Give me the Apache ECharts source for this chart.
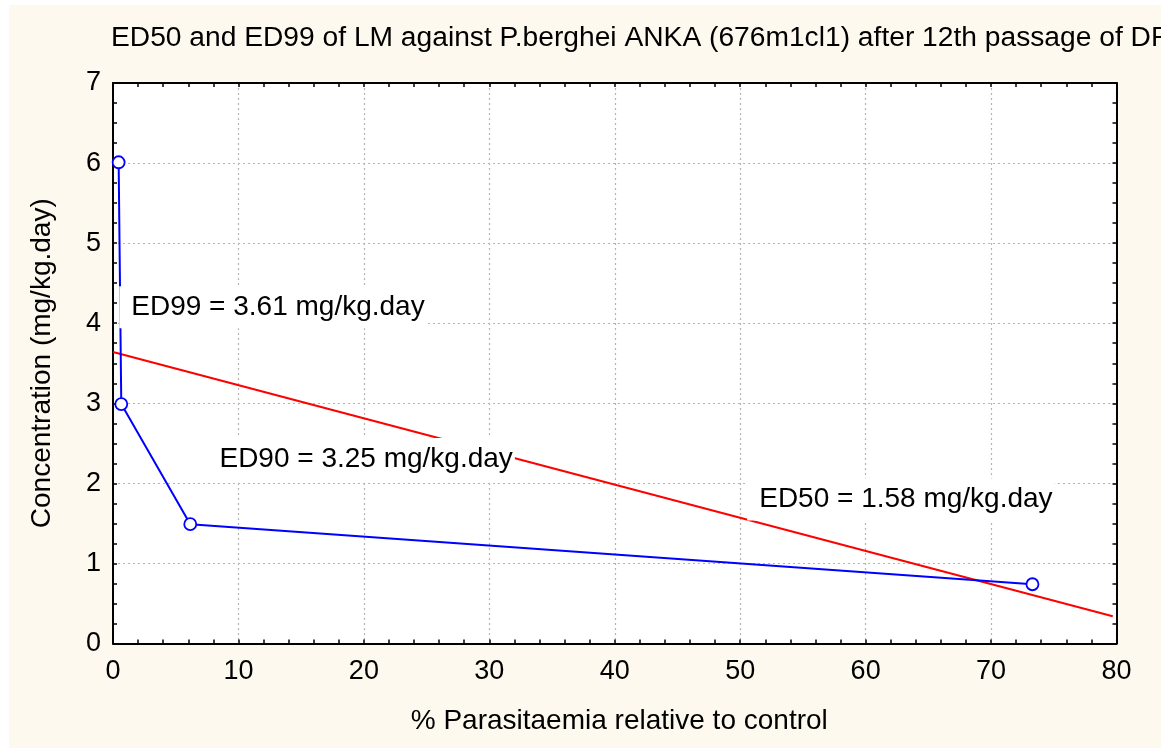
<!DOCTYPE html>
<html>
<head>
<meta charset="utf-8">
<script src="https://cdn.jsdelivr.net/npm/echarts@6/dist/echarts.min.js"></script>
<style>
    html, body { margin: 0; padding: 0; background: #fff; }
    .panel {
        position: absolute;
        left: 9px;
        top: 5px;
        width: 1152px;
        height: 743px;
        background: #fef9ee;
        overflow: hidden;
    }
    .chart { width: 100%; height: 100%; }
</style>
</head>
<body>
<div class="panel"><div class="chart" id="chart"></div></div>
<script>
// 数据：% 寄生虫血症 与 浓度
const pctX = [0.45, 0.66, 6.16, 73.3];
const conc = [6.01, 2.99, 1.49, 0.74];

// 拟合直线两端
const fitX = [0, 79.7];
const fitY = [3.64, 0.34];

// ED 标注文字和位置（数据坐标）
const edTexts = ['ED99 = 3.61 mg/kg.day', 'ED90 = 3.25 mg/kg.day', 'ED50 = 1.58 mg/kg.day'];
const edX = [0.50, 7.53, 50.56];
const edY = [4.20, 2.305, 1.797];

// 刻度
const xTicks = { min: 0, max: 80, interval: 10 };
const yTicks = { min: 0, max: 7, interval: 1 };

const font = "'Liberation Sans', Arial, sans-serif";

let myChart = echarts.init(document.getElementById('chart'));

// 公共坐标轴样式
function frameAxis(extra) {
    return Object.assign({
        type: 'value',
        axisLine: { show: true, onZero: false, lineStyle: { color: '#000', width: 2 } },
        axisTick: { show: true, inside: true, length: 4, lineStyle: { color: '#000', width: 1.5 } },
        minorTick: { show: true, length: 4, lineStyle: { color: '#000', width: 1.5 } },
        splitLine: { show: false },
        axisLabel: { show: false }
    }, extra);
}

let option = {
    animation: false,
    textStyle: { fontFamily: font },
    title: {
        text: 'ED50 and ED99 of LM against P.berghei ANKA (676m1cl1) after 12th passage of DP',
        left: 102,
        top: 19,
        padding: 0,
        textStyle: { fontFamily: font, fontSize: 28.2, fontWeight: 'normal', color: '#000' }
    },
    grid: {
        left: 104,
        top: 78,
        right: 44.5,
        bottom: 104.5,
        show: true,
        backgroundColor: '#fff',
        borderWidth: 0
    },
    xAxis: [
        frameAxis({
            min: xTicks.min, max: xTicks.max, interval: xTicks.interval,
            position: 'bottom',
            minorTick: { show: true, splitNumber: 5, length: 4, lineStyle: { color: '#000', width: 1.5 } },
            splitLine: { show: true, lineStyle: { color: '#b4b4b4', type: [2, 3], width: 1.2 } },
            axisLabel: { show: true, margin: 15, fontSize: 27, color: '#000', fontFamily: font },
            name: '% Parasitaemia relative to control',
            nameLocation: 'middle',
            nameGap: 64,
            nameTextStyle: { fontSize: 28, color: '#000', fontFamily: font, padding: [0, 0, 0, 9] }
        }),
        frameAxis({
            min: xTicks.min, max: xTicks.max, interval: xTicks.interval,
            position: 'top',
            minorTick: { show: true, splitNumber: 5, length: 4, lineStyle: { color: '#000', width: 1.5 } }
        })
    ],
    yAxis: [
        frameAxis({
            min: yTicks.min, max: yTicks.max, interval: yTicks.interval,
            position: 'left',
            minorTick: { show: true, splitNumber: 4, length: 4, lineStyle: { color: '#000', width: 1.5 } },
            splitLine: { show: true, lineStyle: { color: '#b4b4b4', type: [2, 3], width: 1.2 } },
            axisLabel: { show: true, margin: 12, fontSize: 27, color: '#000', fontFamily: font },
            name: 'Concentration (mg/kg.day)',
            nameLocation: 'middle',
            nameGap: 57,
            nameTextStyle: { fontSize: 28, color: '#000', fontFamily: font }
        }),
        frameAxis({
            min: yTicks.min, max: yTicks.max, interval: yTicks.interval,
            position: 'right',
            minorTick: { show: true, splitNumber: 4, length: 4, lineStyle: { color: '#000', width: 1.5 } }
        })
    ],
    series: [
        {
            name: 'fit',
            type: 'line',
            data: fitX.map((x, i) => [x, fitY[i]]),
            symbol: 'none',
            lineStyle: { color: '#ff0000', width: 2 },
            z: 2
        },
        {
            name: 'data',
            type: 'line',
            data: pctX.map((x, i) => [x, conc[i]]),
            symbol: 'circle',
            symbolSize: 12,
            itemStyle: { color: '#fff', borderColor: '#0000ff', borderWidth: 1.8 },
            lineStyle: { color: '#0000ff', width: 2 },
            z: 3
        },
        {
            name: 'labels',
            type: 'scatter',
            data: edX.map((x, i) => [x, edY[i]]),
            symbolSize: 1,
            itemStyle: { color: 'rgba(0,0,0,0)', opacity: 1 },
            label: {
                show: true,
                position: 'inside',
                align: 'left',
                verticalAlign: 'middle',
                formatter: (p) => edTexts[p.dataIndex],
                fontSize: 28,
                fontFamily: font,
                color: '#000',
                opacity: 1,
                backgroundColor: '#fff',
                padding: [7, 2, 7, 12]
            },
            z: 5
        }
    ]
};

myChart.setOption(option);
</script>
</body>
</html>
